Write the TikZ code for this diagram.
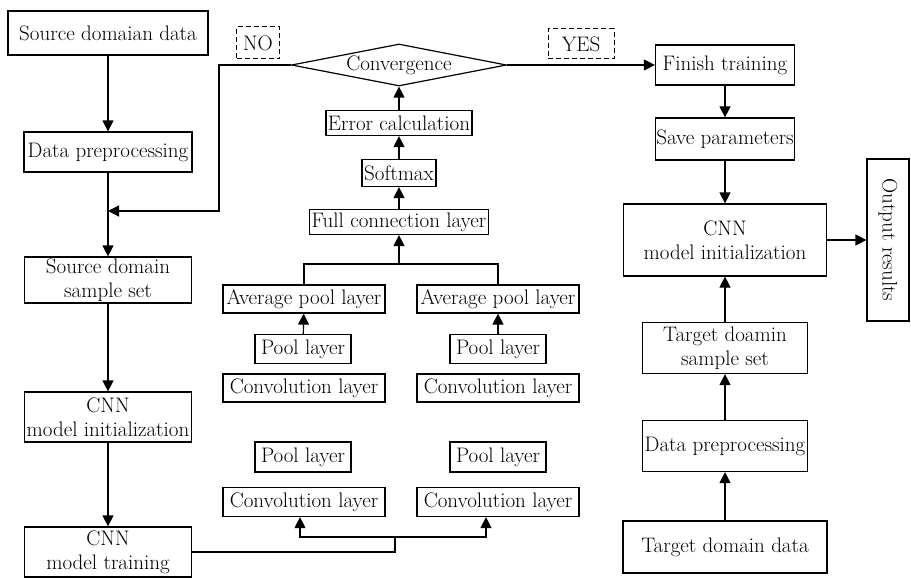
\documentclass[tikz,border=0pt]{standalone}
\usetikzlibrary{shapes.geometric,arrows.meta}
\begin{document}
\begin{tikzpicture}[x=1pt, y=-1pt, line width=1.2pt,
  every node/.style={draw, align=center, inner sep=1pt, font=\fontsize{21}{24}\selectfont},
  sz/.style 2 args={minimum width=#1pt, minimum height=#2pt},
  arr/.style={-{Triangle[length=11pt,width=11pt]}},
  tag/.style={dash pattern=on 5pt off 3pt, line width=1pt}]
  \useasboundingbox (0,0) rectangle (911,578);
  \node[sz={200}{44}] (srcdata) at (108,33) {Source domaian data};
  \node[sz={168}{40}] (srcprep) at (108,152) {Data preprocessing};
  \node[sz={167}{46}] (srcset) at (108,280) {Source domain\\sample set};
  \node[sz={167}{50}] (srcinit) at (108,417) {CNN\\model initialization};
  \node[sz={167}{50}] (train) at (108,552) {CNN\\model training};
  \node[shape=diamond, sz={215}{42}, inner sep=0pt] (conv) at (399,65) {\makebox[0pt]{Convergence}};
  \node[tag, sz={43}{32}] (no) at (258,43) {NO};
  \node[tag, sz={66}{30}] (yes) at (581,44) {YES};
  \node[sz={146}{25}] (err) at (399,123) {Error calculation};
  \node[sz={74}{27}] (soft) at (399,173) {Softmax};
  \node[sz={179}{25}] (full) at (399,222) {Full connection layer};
  \node[sz={162}{28}] (avgL) at (304,299) {Average pool layer};
  \node[sz={162}{28}] (avgR) at (498,299) {Average pool layer};
  \node[sz={96}{29}] (poolL1) at (303,349) {Pool layer};
  \node[sz={96}{29}] (poolR1) at (498,349) {Pool layer};
  \node[sz={162}{28}] (convL1) at (304,388) {Convolution layer};
  \node[sz={162}{28}] (convR1) at (498,388) {Convolution layer};
  \node[sz={96}{30}] (poolL2) at (303,457) {Pool layer};
  \node[sz={96}{30}] (poolR2) at (498,457) {Pool layer};
  \node[sz={162}{29}] (convL2) at (304,502) {Convolution layer};
  \node[sz={162}{29}] (convR2) at (498,502) {Convolution layer};
  \node[sz={139}{40}] (finish) at (725,65) {Finish training};
  \node[sz={139}{42}] (save) at (725,139) {Save parameters};
  \node[sz={203}{72}] (tgtinit) at (725,240) {CNN\\model initialization};
  \node[rotate=-90, sz={162}{42}] (out) at (888,240) {Output results};
  \node[sz={165}{51}] (tgtset) at (725,348) {Target doamin\\sample set};
  \node[sz={165}{51}] (tgtprep) at (725,446) {Data preprocessing};
  \node[sz={204}{52}] (tgtdata) at (725,547) {Target domain data};
  \coordinate (noturn) at (219,65);
  \coordinate (back) at (108,211);
  \coordinate (merge) at (399,264);
  \coordinate (split) at (395,537);
  \draw[arr] (srcdata) -- (srcprep);
  \draw[arr] (srcprep) -- (srcset);
  \draw[arr] (srcset) -- (srcinit);
  \draw[arr] (srcinit) -- (train);
  \draw (train.east |- split) ++(0,15) -| (split);
  \draw[arr] (split) -| ([xshift=-4pt]convL2.south);
  \draw[arr] (split) -| ([xshift=-12pt]convR2.south);
  \draw[arr] (poolL1) -- (avgL);
  \draw[arr] (poolR1) -- (avgR);
  \draw (avgL.north) |- (merge) -| (avgR.north);
  \draw[arr] (merge) -- (full);
  \draw[arr] (full) -- (soft);
  \draw[arr] (soft) -- (err);
  \draw[arr] (err) -- (conv);
  \draw[arr] (conv.west) -- (noturn) |- (back);
  \draw[arr] (conv.east) -- (finish.west);
  \draw[arr] (finish) -- (save);
  \draw[arr] (save) -- (tgtinit);
  \draw[arr] (tgtinit) -- (out);
  \draw[arr] (tgtdata) -- (tgtprep);
  \draw[arr] (tgtprep) -- (tgtset);
  \draw[arr] (tgtset) -- (tgtinit);
\end{tikzpicture}
\end{document}
